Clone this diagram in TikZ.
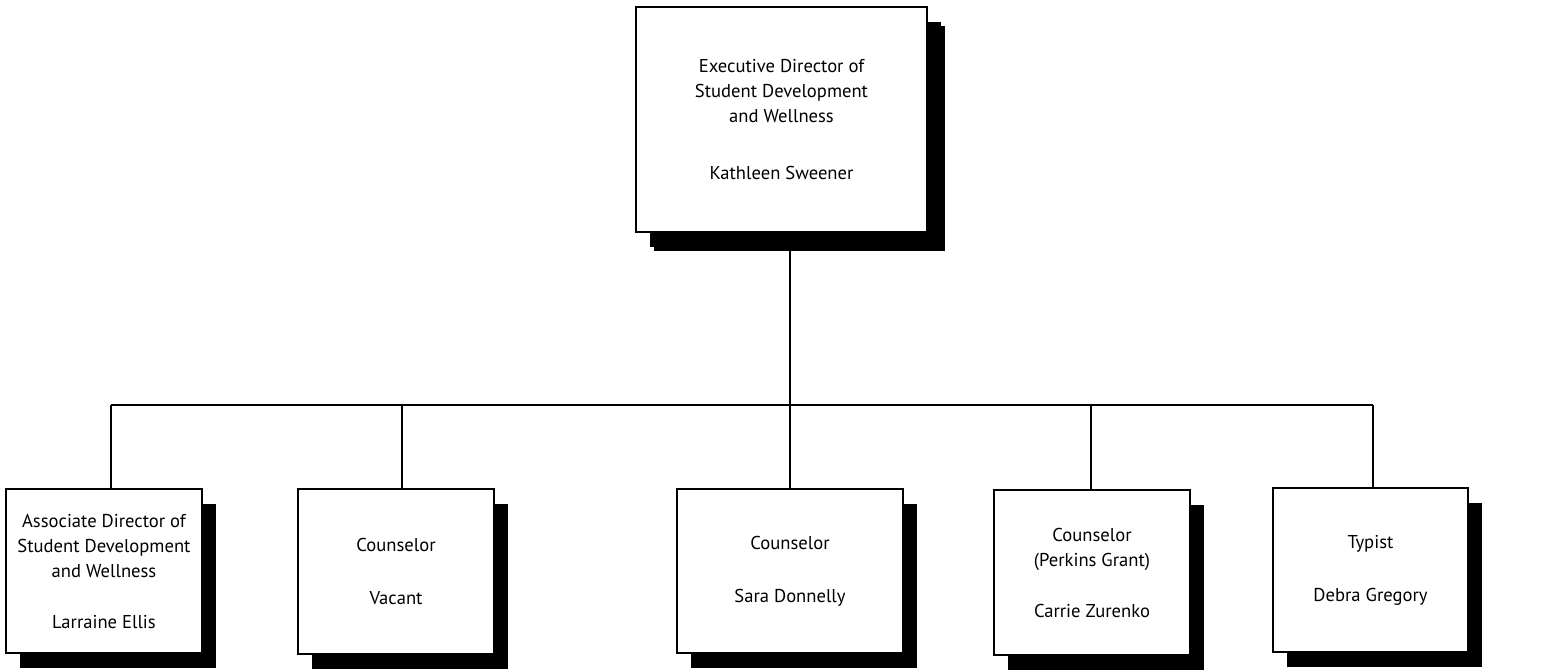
\documentclass[tikz,border=0pt]{standalone}
\usepackage{fontspec}
\setmainfont{PT Sans}
\usetikzlibrary{shadows, positioning}

\tikzset{
    post/.style={draw, line width=1pt, fill=white, inner sep=0pt, align=center,
        font=\fontsize{9.3}{12.5}\selectfont,
        drop shadow={shadow xshift=7pt, shadow yshift=-7.5pt, fill=black, opacity=1}},
    head/.style={post, drop shadow={shadow xshift=9pt, shadow yshift=-9.5pt, fill=black, opacity=1}},
    link/.style={line width=1pt}
}

\begin{document}
\begin{tikzpicture}[x=0.5pt, y=-0.5pt]
    \useasboundingbox (0,0) rectangle (1564,671);

    \node [head, minimum width=145.5pt, minimum height=112.5pt] (top) at (781.5,119.5)
        {Executive Director of\\Student Development\\and Wellness\\[16pt]Kathleen Sweener};

    \node [post, minimum width=98pt, minimum height=82pt] (p1) at (104,571)
        {Associate Director of\\Student Development\\and Wellness\\[13pt]Larraine Ellis};
    \node [post, minimum width=98pt, minimum height=82.5pt] (p2) at (396,571.5)
        {Counselor\\[14pt]Vacant};
    \node [post, minimum width=113pt, minimum height=82pt] (p3) at (790,571)
        {Counselor\\[14pt]Sara Donnelly};
    \node [post, minimum width=98pt, minimum height=82.5pt] (p4) at (1092,572.5)
        {Counselor\\(Perkins Grant)\\[13pt]Carrie Zurenko};
    \node [post, minimum width=97.5pt, minimum height=82pt] (p5) at (1370.5,570)
        {Typist\\[14pt]Debra Gregory};

    \coordinate (bar) at (790,405);
    \coordinate (d1) at (111,405);
    \coordinate (d2) at (402,405);
    \coordinate (d3) at (790,405);
    \coordinate (d4) at (1091,405);
    \coordinate (d5) at (1373,405);

    \draw [link] (bar |- top.south) -- (bar);
    \draw [link] (d1) -- (d5);
    \draw [link] (d1) -- (d1 |- p1.north);
    \draw [link] (d2) -- (d2 |- p2.north);
    \draw [link] (d3) -- (d3 |- p3.north);
    \draw [link] (d4) -- (d4 |- p4.north);
    \draw [link] (d5) -- (d5 |- p5.north);
\end{tikzpicture}
\end{document}
